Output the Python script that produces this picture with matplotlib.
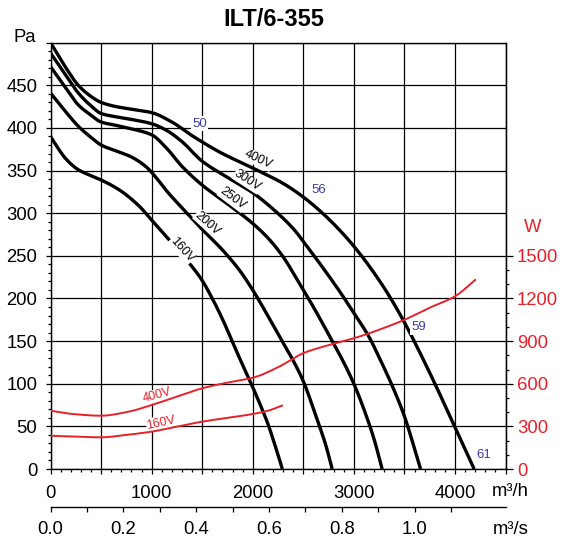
import numpy as np
import matplotlib
matplotlib.use("Agg")
import matplotlib.pyplot as plt
from matplotlib.ticker import MultipleLocator, FixedLocator, FuncFormatter

plt.rcParams['font.family'] = ['Liberation Sans', 'DejaVu Sans']

# ---------------- data ----------------
title = "ILT/6-355"

# fan curves: airflow m3/h -> static pressure Pa
x400 = [0, 150, 275, 400, 500, 650, 800, 1000, 1200, 1400, 1550, 1700, 2000, 2300, 2500,
        2700, 2900, 3050, 3200, 3350, 3500, 3750, 4000, 4190]
y400 = [500, 471, 450, 437, 430, 425, 422, 418, 407, 391, 380, 370, 353, 335, 319,
        299, 275, 254, 230, 203, 172, 113, 49, 0]

x300 = [0, 150, 275, 400, 500, 650, 800, 1000, 1150, 1300, 1500, 1750, 2000, 2200, 2400,
        2550, 2700, 2850, 3000, 3150, 3250, 3400, 3500, 3600, 3660]
y300 = [488, 462, 441, 426, 417, 413, 410, 405, 397, 384, 361, 342, 324, 305, 282,
        259, 235, 210, 183, 155, 131, 92, 62, 24, 0]

x250 = [0, 150, 275, 400, 500, 650, 800, 1000, 1150, 1300, 1500, 1750, 2000, 2150, 2300,
        2450, 2600, 2750, 2900, 3000, 3100, 3200, 3280]
y250 = [472, 447, 427, 415, 407, 403, 399, 392, 376, 355, 333, 311, 288, 271, 249,
        220, 190, 158, 125, 100, 70, 35, 0]

x200 = [0, 150, 275, 400, 500, 650, 800, 950, 1050, 1150, 1350, 1500, 1700, 1870, 2000,
        2100, 2210, 2300, 2410, 2500, 2640, 2720, 2786]
y200 = [441, 419, 402, 389, 380, 373, 366, 354, 341, 326, 300, 281, 257, 233, 210,
        190, 167, 148, 125, 103, 57, 29, 0]

x160 = [0, 70, 150, 275, 400, 500, 685, 880, 1000, 1150, 1340, 1490, 1600, 1700, 1800,
        1900, 2000, 2100, 2150, 2220, 2293]
y160 = [390, 377, 364, 351, 344, 339, 327, 308, 292, 272, 246, 223, 200, 176, 149,
        122, 96, 68, 53, 28, 0]

# power curves: airflow m3/h -> W
xp400 = [0, 250, 500, 750, 1000, 1250, 1500, 1750, 2000, 2261, 2500, 2750, 3000, 3250,
         3500, 3750, 4000, 4200]
wp400 = [410, 385, 375, 400, 450, 510, 568, 608, 642, 720, 815, 872, 920, 980,
         1050, 1135, 1215, 1330]
xp160 = [0, 250, 500, 750, 1000, 1250, 1500, 1750, 2000, 2150, 2290]
wp160 = [234, 228, 223, 240, 263, 298, 333, 360, 387, 410, 446]

fan_curves = [("400V", x400, y400), ("300V", x300, y300), ("250V", x250, y250),
              ("200V", x200, y200), ("160V", x160, y160)]
power_curves = [("400V", xp400, wp400), ("160V", xp160, wp160)]

x_ticks_h = [0, 1000, 2000, 3000, 4000]
y_ticks_pa = [0, 50, 100, 150, 200, 250, 300, 350, 400, 450]
w_ticks = [0, 300, 600, 900, 1200, 1500]
s_ticks = [0.0, 0.2, 0.4, 0.6, 0.8, 1.0]

# labels: (text, x, y, rotation)
fan_labels = [("400V", 2054, 363, -25), ("300V", 1949, 338, -33), ("250V", 1801, 317, -37),
              ("200V", 1555, 288, -42), ("160V", 1298, 257, -48)]
power_labels = [("400V", 1054, 86, 15), ("160V", 1094, 54.5, 12)]
noise_labels = [("50", 1473, 405), ("56", 2655, 327), ("59", 3640, 166), ("61", 4281, 16)]

RED = '#e8202a'
BLUE = '#3c3c9c'
FS = 13.3


def smooth_line(ax, xs, ys, **kw):
    """Draw a shape-preserving (PCHIP) curve through the read points."""
    x = np.asarray(xs, float)
    y = np.asarray(ys, float)
    h = np.diff(x)
    delta = np.diff(y) / h
    d = np.zeros_like(x)
    for k in range(1, len(x) - 1):
        if delta[k - 1] * delta[k] <= 0:
            d[k] = 0.0
        else:
            w1 = 2 * h[k] + h[k - 1]
            w2 = h[k] + 2 * h[k - 1]
            d[k] = (w1 + w2) / (w1 / delta[k - 1] + w2 / delta[k])
    d[0] = delta[0]
    d[-1] = delta[-1]
    px, py = [], []
    for k in range(len(h)):
        t = np.linspace(0, 1, 12, endpoint=(k == len(h) - 1))
        h00 = 2 * t**3 - 3 * t**2 + 1
        h10 = t**3 - 2 * t**2 + t
        h01 = -2 * t**3 + 3 * t**2
        h11 = t**3 - t**2
        px.append(x[k] + t * h[k])
        py.append(h00 * y[k] + h10 * h[k] * d[k] + h01 * y[k + 1] + h11 * h[k] * d[k + 1])
    ax.plot(np.concatenate(px), np.concatenate(py), **kw)


# ---------------- figure ----------------
W, H = 562, 539
fig = plt.figure(figsize=(W / 100, H / 100), dpi=100)
L, R, B, T = 50.5, 505.5, 469, 42.7
ax = fig.add_axes([L / W, 1 - B / H, (R - L) / W, (B - T) / H])
ax.set_xlim(0, 4500)
ax.set_ylim(0, 500)

ax.set_xticks(np.arange(0, 4501, 500))
ax.xaxis.set_major_formatter(FuncFormatter(lambda v, p: f"{int(v)}" if int(v) in x_ticks_h else ""))
ax.set_yticks(np.arange(0, 501, 50))
ax.yaxis.set_major_formatter(FuncFormatter(lambda v, p: f"{int(v)}" if int(v) in y_ticks_pa else ""))
ax.xaxis.set_minor_locator(MultipleLocator(100))
ax.yaxis.set_minor_locator(MultipleLocator(10))
ax.grid(True, which='major', color='black', lw=0.9, zorder=0)
ax.set_axisbelow(True)
ax.tick_params(which='major', length=3.6, width=0.9, labelsize=FS, direction='out')
ax.tick_params(which='minor', length=2.2, width=0.9, direction='out')
ax.tick_params(axis='x', which='major', pad=8)
ax.tick_params(axis='y', which='major', pad=6)
for s in ax.spines.values():
    s.set_linewidth(1.0)

for name, xs, ys in fan_curves:
    smooth_line(ax, xs, ys, color='black', lw=2.4, solid_capstyle='butt', zorder=3)

ax2 = ax.twinx()
ax2.set_ylim(0, 3000)
for name, xs, ws in power_curves:
    smooth_line(ax2, xs, ws, color=RED, lw=1.4, zorder=3)
ax2.yaxis.set_major_locator(FixedLocator(w_ticks))
ax2.yaxis.set_minor_locator(FixedLocator(np.arange(100, 1501, 100)))
ax2.tick_params(which='major', length=4.7, width=0.9, labelsize=FS, labelcolor=RED, pad=3.4)
ax2.tick_params(which='minor', length=1.8, width=0.9)
for k in ['top', 'left', 'bottom']:
    ax2.spines[k].set_visible(False)

for txt, x, y, rot in fan_labels:
    ax.text(x, y, txt, fontsize=9, rotation=rot, ha='center', va='center', zorder=5,
            rotation_mode='anchor',
            bbox=dict(boxstyle='square,pad=0.05', fc='white', ec='none'))
for txt, x, y, rot in power_labels:
    ax.text(x, y, txt, fontsize=9, rotation=rot, ha='center', va='center', color=RED, zorder=5,
            rotation_mode='anchor',
            bbox=dict(boxstyle='square,pad=0.05', fc='white', ec='none'))
for txt, x, y in noise_labels:
    ax.text(x, y, txt, fontsize=9.5, color=BLUE, ha='center', va='center', zorder=5,
            bbox=dict(boxstyle='square,pad=0.1', fc='white', ec='none'))

# second x axis in m3/s
ax3 = fig.add_axes([L / W, 1 - 506.7 / H, (R - L) / W, 1e-4])
ax3.set_xlim(0, 4500 / 3600)
ax3.patch.set_visible(False)
for k in ['top', 'left', 'right']:
    ax3.spines[k].set_visible(False)
ax3.spines['bottom'].set_linewidth(1.0)
ax3.set_yticks([])
ax3.set_xticks(s_ticks)
ax3.set_xticklabels([f"{v:.1f}" for v in s_ticks])
ax3.xaxis.set_minor_locator(FixedLocator([0.1, 0.3, 0.5, 0.7, 0.9, 1.1]))
ax3.tick_params(which='both', length=3.6, width=0.9, direction='out')
ax3.tick_params(which='major', labelsize=FS, pad=7)

fig.text(274 / W, 1 - 20 / H, title, fontsize=17, fontweight='bold', ha='center', va='center')
fig.text(36 / W, 1 - 37.5 / H, "Pa", fontsize=FS, ha='right', va='center')
fig.text(533 / W, 1 - 228 / H, "W", fontsize=FS, ha='center', va='center', color=RED)
fig.text(492 / W, 1 - 491.7 / H, "m³/h", fontsize=FS, ha='left', va='center')
fig.text(493 / W, 1 - 529 / H, "m³/s", fontsize=FS, ha='left', va='center')

fig.savefig("out.png", dpi=100)
